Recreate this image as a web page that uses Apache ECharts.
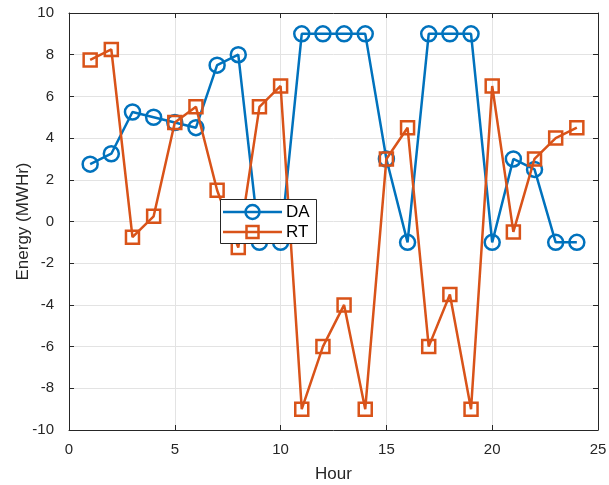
<!DOCTYPE html>
<html>
<head>
<meta charset="utf-8">
<script src="https://cdn.jsdelivr.net/npm/echarts@6/dist/echarts.min.js"></script>
<style>
  html, body { margin: 0; padding: 0; background: #fff; }
  #chart { width: 609px; height: 485px; }
</style>
</head>
<body>
<div id="chart"></div>
<script>
// Hourly energy: day-ahead (DA) and real-time (RT), MWHr
const hours = [1,2,3,4,5,6,7,8,9,10,11,12,13,14,15,16,17,18,19,20,21,22,23,24];
const daValues = [2.75,3.25,5.25,5,4.75,4.5,7.5,8,-1,-1,9,9,9,9,3,-1,9,9,9,-1,3,2.5,-1,-1];
const rtValues = [7.75,8.25,-0.75,0.25,4.75,5.5,1.5,-1.25,5.5,6.5,-9,-6,-4,-9,3,4.5,-6,-3.5,-9,6.5,-0.5,3,4,4.5];
const xTicks = [0,5,10,15,20,25];
const yTicks = [-10,-8,-6,-4,-2,0,2,4,6,8,10];
const seriesNames = ['DA', 'RT'];

const axisColor = '#262626';
const blue = '#0072BD';
const orange = '#D95319';
const font = 'Liberation Sans, Arial, sans-serif';

const chart = echarts.init(document.getElementById('chart'), null, { renderer: 'canvas' });

const pair = (xs, ys) => xs.map((x, i) => [x, ys[i]]);

const baseX = {
  type: 'value', min: xTicks[0], max: xTicks[xTicks.length - 1], interval: 5,
  axisLine: { show: true, onZero: false, lineStyle: { color: axisColor, width: 1 } },
  axisTick: { show: true, inside: true, length: 5, lineStyle: { color: axisColor } }
};
const baseY = {
  type: 'value', min: yTicks[0], max: yTicks[yTicks.length - 1], interval: 2,
  axisLine: { show: true, onZero: false, lineStyle: { color: axisColor, width: 1 } },
  axisTick: { show: true, inside: true, length: 5, lineStyle: { color: axisColor } }
};

// Boxed legend: line sample with marker, then label
const lx = 220, ly = 199, lw = 96, lh = 44;
const LZ = 100;
const legendGraphic = {
  type: 'group', left: lx, top: ly,
  children: [
    { type: 'rect', z: LZ, shape: { x: 0.5, y: 0.5, width: lw, height: lh },
      style: { fill: '#fff', stroke: axisColor, lineWidth: 1 } },
    { type: 'line', z: LZ + 1, shape: { x1: 3, y1: 13, x2: 62, y2: 13 },
      style: { stroke: blue, lineWidth: 2.5 } },
    { type: 'circle', z: LZ + 2, shape: { cx: 32.5, cy: 13, r: 7 },
      style: { fill: 'rgba(0,0,0,0)', stroke: blue, lineWidth: 2.5 } },
    { type: 'text', z: LZ + 2, x: 66, y: 13,
      style: { text: seriesNames[0], fill: '#000', font: '17px ' + font, verticalAlign: 'middle' } },
    { type: 'line', z: LZ + 1, shape: { x1: 3, y1: 33, x2: 62, y2: 33 },
      style: { stroke: orange, lineWidth: 2.5 } },
    { type: 'rect', z: LZ + 2, shape: { x: 26.5, y: 27, width: 12, height: 12 },
      style: { fill: 'rgba(0,0,0,0)', stroke: orange, lineWidth: 2.5 } },
    { type: 'text', z: LZ + 2, x: 66, y: 33,
      style: { text: seriesNames[1], fill: '#000', font: '17px ' + font, verticalAlign: 'middle' } }
  ]
};

chart.setOption({
  animation: false,
  backgroundColor: '#ffffff',
  grid: { left: 69, right: 11, top: 13, bottom: 55, containLabel: false, outerBoundsMode: 'none' },
  xAxis: [
    Object.assign({}, baseX, {
      position: 'bottom',
      name: 'Hour', nameLocation: 'middle', nameGap: 36,
      nameTextStyle: { color: axisColor, fontSize: 17, fontFamily: font },
      axisLabel: { color: axisColor, fontSize: 15, fontFamily: font, margin: 12 },
      splitLine: { show: true, lineStyle: { color: '#e3e3e3', width: 1 } }
    }),
    Object.assign({}, baseX, {
      position: 'top',
      axisLabel: { show: false },
      splitLine: { show: false }
    })
  ],
  yAxis: [
    Object.assign({}, baseY, {
      position: 'left',
      name: 'Energy (MWHr)', nameLocation: 'middle', nameGap: 37, nameMoveOverlap: false,
      nameTextStyle: { color: axisColor, fontSize: 17, fontFamily: font },
      axisLabel: { color: axisColor, fontSize: 15, fontFamily: font, margin: 15 },
      splitLine: { show: true, lineStyle: { color: '#e3e3e3', width: 1 } }
    }),
    Object.assign({}, baseY, {
      position: 'right',
      axisLabel: { show: false },
      splitLine: { show: false }
    })
  ],
  graphic: [legendGraphic],
  series: [
    {
      name: seriesNames[0], type: 'line',
      data: pair(hours, daValues),
      symbol: 'circle', symbolSize: 15,
      itemStyle: { color: 'rgba(0,0,0,0)', borderColor: blue, borderWidth: 2.5 },
      lineStyle: { color: blue, width: 2.5 },
      z: 3
    },
    {
      name: seriesNames[1], type: 'line',
      data: pair(hours, rtValues),
      symbol: 'rect', symbolSize: 13,
      itemStyle: { color: 'rgba(0,0,0,0)', borderColor: orange, borderWidth: 2.5 },
      lineStyle: { color: orange, width: 2.5 },
      z: 4
    }
  ]
});
</script>
</body>
</html>
